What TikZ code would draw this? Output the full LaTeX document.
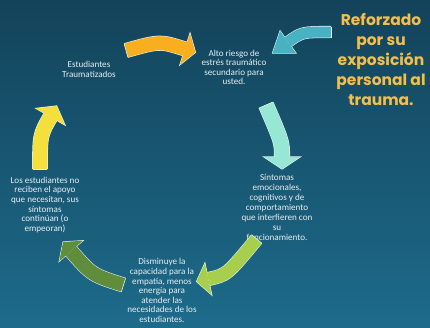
\documentclass[tikz,border=0pt]{standalone}
\usepackage{fontspec}
\setmainfont{Carlito}
\newfontfamily\titlefont{Poppins}
\usetikzlibrary{calc}

\definecolor{bgtop}{HTML}{13435A}
\definecolor{bgbot}{HTML}{1D6B8B}
\definecolor{inktext}{HTML}{E8EEF1}
\definecolor{gold}{HTML}{F3BE4C}
\definecolor{rimcol}{HTML}{E6F2F4}
\definecolor{arrOrange}{HTML}{F9AE1F}
\definecolor{arrCyan}{HTML}{48B2C3}
\definecolor{arrMint}{HTML}{97E7D5}
\definecolor{arrLime}{HTML}{A8CF4C}
\definecolor{arrGreen}{HTML}{5F8D3B}
\definecolor{arrYellow}{HTML}{F4DF3D}

\tikzset{
  label text/.style={text=inktext, align=center, inner sep=0pt,
    font=\fontsize{9.1}{9.5}\selectfont},
  title text/.style={text=gold, align=center, inner sep=0pt,
    font=\titlefont\bfseries\fontsize{15.5}{20}\selectfont},
  rim/.style={draw=rimcol, line cap=butt, line join=miter},
}

% Curved block arrow: tail (#1-t), bend (#1-c), head base (#1-b).
% #2 colour, #3 half shaft width, #4 half head width, #5 head length (pt)
\newcommand\blockarrow[5]{%
  \coordinate (#1-l) at ($(#1-b)!#4pt!90:(#1-c)$);
  \coordinate (#1-r) at ($(#1-b)!#4pt!-90:(#1-c)$);
  \coordinate (#1-p) at ($(#1-b)!#5pt!180:(#1-c)$);
  \coordinate (#1-tl) at ($(#1-t)!#3pt!90:(#1-c)$);
  \coordinate (#1-tr) at ($(#1-t)!#3pt!-90:(#1-c)$);
  \draw[rim, line width=2*#3pt+1.1pt] (#1-t) .. controls (#1-c) .. (#1-b);
  \filldraw[rim, fill=rimcol, line width=1.1pt] (#1-l) -- (#1-p) -- (#1-r) -- cycle;
  \draw[draw=#2, line width=2*#3pt, line cap=butt] (#1-t) .. controls (#1-c) .. (#1-b);
  \fill[#2] (#1-l) -- (#1-p) -- (#1-r) -- cycle;
  \draw[rim, line width=0.55pt] (#1-tl) -- (#1-tr);
}

\begin{document}
\begin{tikzpicture}[x=1pt,y=-1pt]
  \shade[top color=bgtop, bottom color=bgbot] (0,0) rectangle (430,327);
  \useasboundingbox (0,0) rectangle (430,327);

  % cycle stages
  \node[label text] (trauma) at (89,69.5) {Estudiantes\\Traumatizados};
  \node[label text] (risk) at (234,67.5) {Alto riesgo de\\estrés traumático\\secundario para\\usted.};
  \node[label text, font=\fontsize{9.1}{10}\selectfont] (symptoms) at (277,207) {Síntomas\\emocionales,\\cognitivos y de\\comportamiento\\que interfieren con\\su\\funcionamiento.};
  \node[label text, font=\fontsize{9.1}{9.6}\selectfont] (empathy) at (162,290.5) {Disminuye la\\capacidad para la\\empatía, menos\\energía para\\atender las\\necesidades de los\\estudiantes.};
  \node[label text, font=\fontsize{9.1}{9.7}\selectfont] (support) at (45,205) {Los estudiantes no\\reciben el apoyo\\que necesitan, sus\\síntomas\\continúan (o\\empeoran)};

  % side note
  \node[title text] (note) at (381,59) {Reforzado\\por su\\exposición\\personal al\\trauma.};

  % arrows of the cycle
  \coordinate (o-t) at (126,50.5);  \coordinate (o-c) at (160,41);   \coordinate (o-b) at (185,49);
  \blockarrow{o}{arrOrange}{7}{16.5}{11}

  \coordinate (m-t) at (266,105);   \coordinate (m-c) at (282,142);  \coordinate (m-b) at (282,157);
  \blockarrow{m}{arrMint}{7.5}{18}{12}

  \coordinate (l-t) at (256.7,239); \coordinate (l-c) at (226.8,275); \coordinate (l-b) at (208.3,279);
  \blockarrow{l}{arrLime}{6.5}{16.2}{12}

  \coordinate (g-t) at (123.5,285); \coordinate (g-c) at (92,275);   \coordinate (g-b) at (71,251);
  \blockarrow{g}{arrGreen}{7}{15.6}{12}

  \coordinate (y-t) at (40,169);    \coordinate (y-c) at (40,135);   \coordinate (y-b) at (50.5,116.7);
  \blockarrow{y}{arrYellow}{7.3}{16.7}{12.4}

  % arrow from the side note into the cycle
  \coordinate (c-t) at (331,32);    \coordinate (c-c) at (302,32);   \coordinate (c-b) at (288,42);
  \blockarrow{c}{arrCyan}{5.5}{13.6}{19}
\end{tikzpicture}
\end{document}
